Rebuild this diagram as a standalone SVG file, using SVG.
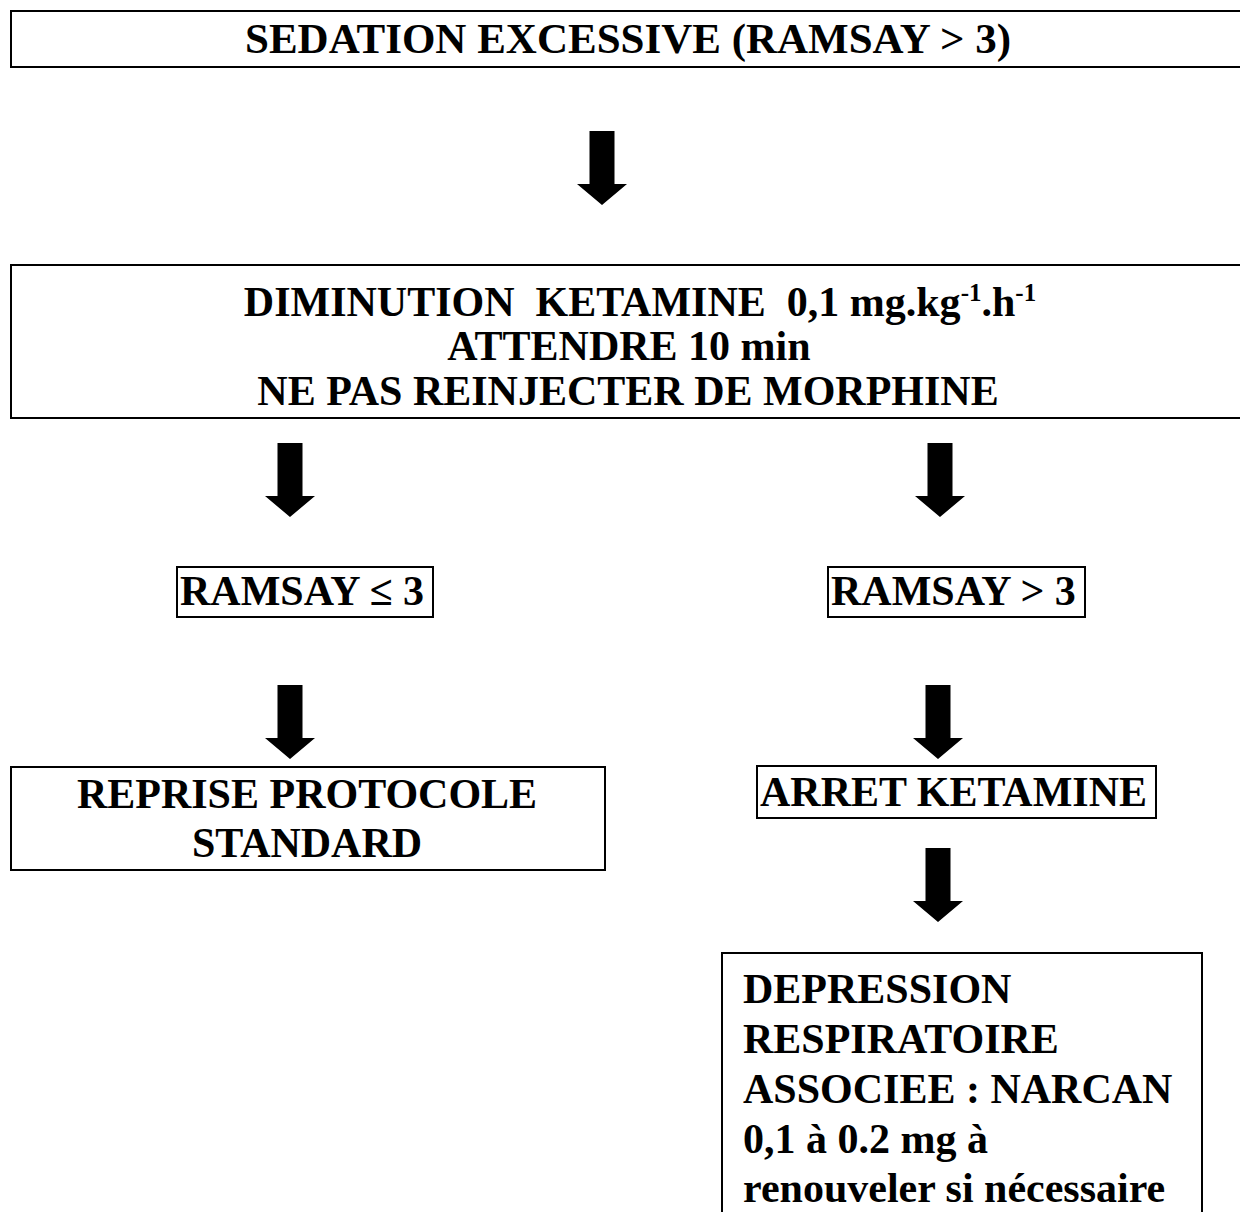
<svg xmlns="http://www.w3.org/2000/svg" xmlns:xlink="http://www.w3.org/1999/xlink" width="1240" height="1212" viewBox="0 0 1240 1212">
<style>
.box{fill:#fff;stroke:#000;stroke-width:2}
.t{font-family:"Liberation Serif","Times New Roman",serif;font-weight:bold;font-size:42px;fill:#000;white-space:pre}
.c{text-anchor:middle}
.sup{font-size:25px}
</style>
<defs>
<path id="arr" d="M-12.5,0 H12.5 V53 H25 L0,74 L-25,53 H-12.5 Z" fill="#000"/>
</defs>
<rect width="1240" height="1212" fill="#fff"/>
<g id="n1">
<rect class="box" x="11" y="11" width="1240" height="56"/>
<text class="t c" x="628" y="53" style="font-size:43px">SEDATION EXCESSIVE (RAMSAY &gt; 3)</text>
</g>
<g id="n2">
<rect class="box" x="11" y="265" width="1240" height="153"/>
<text class="t c" x="640" y="316">DIMINUTION  KETAMINE  0,1 mg.kg<tspan class="sup" dy="-15">-1</tspan><tspan dy="15">.h</tspan><tspan class="sup" dy="-15">-1</tspan></text>
<text class="t c" x="629" y="360">ATTENDRE 10 min</text>
<text class="t c" x="628" y="405">NE PAS REINJECTER DE MORPHINE</text>
</g>
<g id="n3">
<rect class="box" x="177" y="567" width="256" height="50"/>
<text class="t" x="180" y="605">RAMSAY ≤ 3</text>
</g>
<g id="n4">
<rect class="box" x="828" y="567" width="257" height="50"/>
<text class="t" x="831" y="605">RAMSAY &gt; 3</text>
</g>
<g id="n5">
<rect class="box" x="11" y="767" width="594" height="103"/>
<text class="t c" x="307" y="808">REPRISE PROTOCOLE</text>
<text class="t c" x="307" y="857">STANDARD</text>
</g>
<g id="n6">
<rect class="box" x="757" y="766" width="399" height="52"/>
<text class="t" x="760" y="806">ARRET KETAMINE</text>
</g>
<g id="n7">
<rect class="box" x="722" y="953" width="480" height="280"/>
<text class="t" x="743" y="1003">DEPRESSION</text>
<text class="t" x="743" y="1053">RESPIRATOIRE</text>
<text class="t" x="743" y="1103">ASSOCIEE : NARCAN</text>
<text class="t" x="743" y="1153">0,1 à 0.2 mg à</text>
<text class="t" x="743" y="1202">renouveler si nécessaire</text>
</g>
<g id="connectors">
<use xlink:href="#arr" x="602" y="131"/>
<use xlink:href="#arr" x="290" y="443"/>
<use xlink:href="#arr" x="940" y="443"/>
<use xlink:href="#arr" x="290" y="685"/>
<use xlink:href="#arr" x="938" y="685"/>
<use xlink:href="#arr" x="938" y="848"/>
</g>
</svg>
